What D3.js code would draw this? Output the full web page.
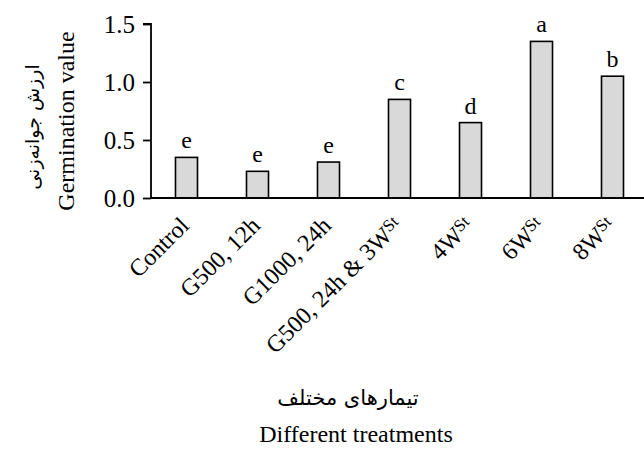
<!DOCTYPE html>
<html lang="en">
<title>Germination value</title>
<meta charset="UTF-8">

<!-- Load d3.js -->
<script src="https://d3js.org/d3.v7.min.js"></script>

<style>
html, body {margin: 0; padding: 0; background: #fff;}
svg text {font-family: "Liberation Serif", "Times New Roman", serif; fill: #000;}
svg text.fa {font-family: "DejaVu Sans", "Noto Sans", sans-serif;}
</style>
<body>
<div id="my_dataviz"></div>

<script>
// data
var treatments = ["Control", "G500, 12h", "G1000, 24h", "G500, 24h & 3W", "4W", "6W", "8W"];
var superParts = ["", "", "", "St", "St", "St", "St"];
var values = [0.35, 0.23, 0.31, 0.85, 0.65, 1.35, 1.05];
var letters = ["e", "e", "e", "c", "d", "a", "b"];
var yTicks = [0, 0.5, 1.0, 1.5];

// set the dimensions and margins of the graph
var width = 644, height = 454;
var plot = {left: 151, right: 648, top: 24, bottom: 198};

var svg = d3.select("#my_dataviz")
  .append("svg")
  .attr("width", width)
  .attr("height", height);

// scales
var x = d3.scaleBand()
  .domain(treatments)
  .range([plot.left, plot.right])
  .padding(0);

var y = d3.scaleLinear()
  .domain([0, 1.5])
  .range([plot.bottom, plot.top]);

var barW = x.bandwidth() * 0.31;

// bars
svg.selectAll("rect.bar")
  .data(values)
  .enter()
  .append("rect")
  .attr("class", "bar")
  .attr("x", function(d, i) { return x(treatments[i]) + x.bandwidth() / 2 - barW / 2; })
  .attr("y", function(d) { return y(d); })
  .attr("width", barW)
  .attr("height", function(d) { return y(0) - y(d); })
  .style("fill", "#d9d9d9")
  .style("stroke", "#000")
  .style("stroke-width", 1.6);

// significance letters
svg.selectAll("text.letter")
  .data(values)
  .enter()
  .append("text")
  .attr("class", "letter")
  .attr("x", function(d, i) { return x(treatments[i]) + x.bandwidth() / 2; })
  .attr("y", function(d) { return y(d) - 9; })
  .style("text-anchor", "middle")
  .style("font-size", "24px")
  .text(function(d, i) { return letters[i]; });

// Y axis
var yAxis = svg.append("g")
  .attr("transform", "translate(" + plot.left + ",0)")
  .call(d3.axisLeft(y).tickValues(yTicks).tickSize(8).tickPadding(8)
    .tickFormat(d3.format(".1f")));
yAxis.selectAll("line, path").style("stroke", "#000").style("stroke-width", 1.8);
yAxis.select(".domain").attr("d", "M0," + plot.bottom + "V" + plot.top + "H-8");
yAxis.selectAll("text").style("font-size", "25px");
yAxis.attr("font-family", null).attr("font-size", null);

// X axis line
svg.append("line")
  .attr("x1", plot.left)
  .attr("x2", width)
  .attr("y1", y(0))
  .attr("y2", y(0))
  .style("stroke", "#000")
  .style("stroke-width", 1.8);

// X tick labels, rotated
var xl = svg.selectAll("text.xlab")
  .data(treatments)
  .enter()
  .append("text")
  .attr("class", "xlab")
  .attr("transform", function(d) {
    return "translate(" + (x(d) + x.bandwidth() / 2 - 2) + "," + (plot.bottom + 23) + ") rotate(-45)";
  })
  .attr("dy", "0.35em")
  .style("text-anchor", "end")
  .style("font-size", "24px");
xl.append("tspan").text(function(d) { return d; });
xl.append("tspan")
  .attr("dy", "-0.35em")
  .style("font-size", "17px")
  .text(function(d, i) { return superParts[i]; });

// Y axis labels
svg.append("text")
  .attr("transform", "translate(74,121) rotate(-90)")
  .style("text-anchor", "middle")
  .style("font-size", "24px")
  .text("Germination value");

svg.append("text")
  .attr("class", "fa")
  .attr("transform", "translate(39,127) rotate(-90)")
  .style("text-anchor", "middle")
  .style("font-size", "19px")
  .text("ارزش جوانه‌زنی");

// X axis labels
svg.append("text")
  .attr("class", "fa")
  .attr("x", 348)
  .attr("y", 405)
  .style("text-anchor", "middle")
  .style("font-size", "21px")
  .text("تیمارهای مختلف");

svg.append("text")
  .attr("x", 356)
  .attr("y", 442)
  .style("text-anchor", "middle")
  .style("font-size", "24px")
  .text("Different treatments");
</script>
</body>
</html>
